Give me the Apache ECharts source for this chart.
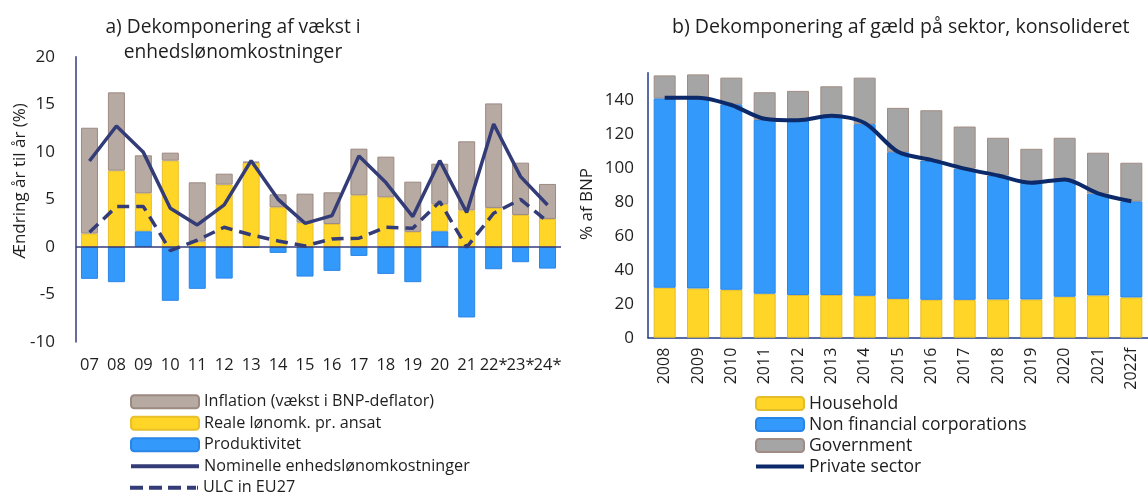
<!DOCTYPE html>
<html>
<head>
<meta charset="utf-8">
<script src="https://cdn.jsdelivr.net/npm/echarts@6/dist/echarts.min.js"></script>
<style>
html,body{margin:0;padding:0;background:#fff;}
#c{width:1148px;height:494px;}
</style>
</head>
<body>
<div id="c"></div>
<script>
// ---- Chart a) data ----
const catA = ['07','08','09','10','11','12','13','14','15','16','17','18','19','20','21','22*','23*','24*'];
const inflation = [11.13, 8.23, 3.99, 0.84, 6.23, 1.15, 0.10, 1.36, 3.05, 3.33, 4.90, 4.27, 5.28, 4.27, 7.25, 10.99, 5.50, 3.68];
const reale = [1.40, 8.02, 3.99, 9.07, 0.56, 6.55, 8.86, 4.17, 2.55, 2.41, 5.43, 5.22, 1.58, 2.83, 3.85, 4.10, 3.36, 2.94];
const produktivitet = [-3.36, -3.71, 1.65, -5.67, -4.41, -3.33, -0.1, -0.63, -3.12, -2.52, -0.95, -2.84, -3.71, 1.65, -7.42, -2.35, -1.61, -2.28];
const nominelle = [9.03, 12.71, 9.94, 4.06, 2.31, 4.41, 9.07, 5.0, 2.48, 3.29, 9.56, 6.76, 3.19, 9.07, 3.61, 12.92, 7.39, 4.41];
const ulcEU27 = [1.54, 4.24, 4.24, -0.38, 0.7, 2.07, 1.26, 0.63, 0.1, 0.84, 0.91, 2.07, 1.96, 4.76, -0.04, 3.54, 5.0, 2.66];
const ticksA = [-10, -5, 0, 5, 10, 15, 20];

// ---- Chart b) data ----
const catB = ['2008','2009','2010','2011','2012','2013','2014','2015','2016','2017','2018','2019','2020','2021','2022f'];
const household = [29.4, 29.0, 28.2, 25.9, 25.1, 25.1, 24.7, 22.9, 22.3, 22.3, 22.5, 22.5, 24.1, 24.9, 23.7];
const nfc = [111.5, 111.9, 109.2, 102.3, 102.7, 104.7, 101.0, 86.3, 82.0, 77.2, 73.0, 68.7, 69.1, 59.9, 56.6];
const government = [13.5, 14.1, 15.7, 16.3, 17.5, 18.2, 27.4, 26.1, 29.6, 24.8, 22.2, 20.0, 24.5, 24.1, 22.7];
const privateSector = [141.3, 141.3, 137.0, 128.9, 128.0, 130.6, 126.4, 109.4, 104.7, 99.5, 95.5, 91.2, 93.2, 85.0, 80.3];
const ticksB = [0, 20, 40, 60, 80, 100, 120, 140];

const FONT = 'Open Sans';
const TXT = '#1e1e1e';
const NAVY = '#343c78';
const DARK = '#0c2a6a';
// legend icons for the line series (thick solid / dashed strokes)
const ICON_SOLID_A = 'path://M0,0L68,0L68,4L0,4Z';
const ICON_DASH_A = 'path://M0,0L13,0L13,4L0,4Z M19,0L32,0L32,4L19,4Z M38,0L51,0L51,4L38,4Z M57,0L66,0L66,4L57,4Z M67,0L68,0L68,4L67,4Z';
const ICON_SOLID_B = 'path://M0,0L48,0L48,4L0,4Z';
const legendText = {fontFamily: FONT, fontSize: 16.2, color: TXT, lineHeight: 21.5};

const chart = echarts.init(document.getElementById('c'), null, {renderer: 'canvas'});
chart.setOption({
  animation: false,
  backgroundColor: '#fff',
  textStyle: {fontFamily: FONT, color: TXT},
  title: [
    {text: 'a) Dekomponering af vækst i\nenhedslønomkostninger', left: 233, top: 15, padding: 0, textAlign: 'center',
     textStyle: {fontFamily: FONT, fontSize: 19.2, fontWeight: 'normal', color: TXT, lineHeight: 25, align: 'center'}},
    {text: 'b) Dekomponering af gæld på sektor, konsolideret', left: 672, top: 15, padding: 0,
     textStyle: {fontFamily: FONT, fontSize: 19.6, fontWeight: 'normal', color: TXT, lineHeight: 25}}
  ],
  graphic: [
    {type: 'text', x: 20, y: 181, rotation: Math.PI / 2, silent: true,
     style: {text: 'Ændring år til år (%)', fontFamily: FONT, fontSize: 17, fill: TXT, align: 'center', verticalAlign: 'middle'}},
    {type: 'text', x: 587, y: 204, rotation: Math.PI / 2, silent: true,
     style: {text: '% af BNP', fontFamily: FONT, fontSize: 17, fill: TXT, align: 'center', verticalAlign: 'middle'}}
  ],
  legend: [
    {orient: 'vertical', left: 125, top: 386, itemWidth: 68, itemHeight: 13, itemGap: 0,
     textStyle: legendText,
     data: ['Inflation (vækst i BNP-deflator)', 'Reale lønomk. pr. ansat', 'Produktivitet',
            {name: 'Nominelle enhedslønomkostninger', icon: ICON_SOLID_A}]},
    {orient: 'vertical', left: 125, top: 472, itemWidth: 68, itemHeight: 13, itemGap: 0,
     textStyle: legendText,
     data: [{name: 'ULC in EU27', icon: ICON_DASH_A}]},
    {orient: 'vertical', left: 750, top: 388, itemWidth: 48, itemHeight: 13, itemGap: 0,
     textStyle: {fontFamily: FONT, fontSize: 17.6, color: TXT, lineHeight: 21},
     data: ['Household', 'Non financial corporations', 'Government', {name: 'Private sector', icon: ICON_SOLID_B}]}
  ],
  grid: [
    {left: 76, top: 56.7, width: 485, height: 285.3},
    {left: 648, top: 72.7, width: 500, height: 265}
  ],
  xAxis: [
    {type: 'category', gridIndex: 0, data: catA, axisLine: {show: false}, axisTick: {show: false},
     axisLabel: {fontFamily: FONT, fontSize: 16.5, color: TXT, margin: 15, interval: 0}},
    {type: 'category', gridIndex: 1, data: catB,
     axisLine: {show: true, lineStyle: {color: '#1f3b88', width: 1.5}}, axisTick: {show: false},
     axisLabel: {fontFamily: FONT, fontSize: 16, color: TXT, rotate: 90, margin: 10, interval: 0}}
  ],
  yAxis: [
    {type: 'value', gridIndex: 0, min: ticksA[0], max: ticksA[ticksA.length - 1], interval: 5,
     splitLine: {show: false}, axisTick: {show: false},
     axisLine: {show: true, lineStyle: {color: NAVY, width: 1.5}},
     axisLabel: {fontFamily: FONT, fontSize: 17, color: TXT, margin: 21}},
    {type: 'value', gridIndex: 1, min: ticksB[0], max: 156, interval: 20,
     splitLine: {show: false}, axisTick: {show: false},
     axisLine: {show: true, lineStyle: {color: '#1f3b88', width: 1.5}},
     axisLabel: {fontFamily: FONT, fontSize: 17, color: TXT, margin: 14, showMaxLabel: false}}
  ],
  series: [
    {name: 'Produktivitet', type: 'bar', xAxisIndex: 0, yAxisIndex: 0, stack: 'a', barWidth: 17,
     data: produktivitet, itemStyle: {color: '#3399fb', borderColor: '#2a86e6', borderWidth: 1},
     markLine: {silent: true, symbol: 'none', label: {show: false}, lineStyle: {color: NAVY, width: 1.5, type: 'solid'},
       data: [{yAxis: 0}], z: 3}},
    {name: 'Reale lønomk. pr. ansat', type: 'bar', xAxisIndex: 0, yAxisIndex: 0, stack: 'a', barWidth: 17,
     data: reale, itemStyle: {color: '#ffd628', borderColor: '#e8c02a', borderWidth: 1}},
    {name: 'Inflation (vækst i BNP-deflator)', type: 'bar', xAxisIndex: 0, yAxisIndex: 0, stack: 'a', barWidth: 17,
     data: inflation, itemStyle: {color: '#b6aaa3', borderColor: '#9c8a82', borderWidth: 1}},
    {name: 'Nominelle enhedslønomkostninger', type: 'line', xAxisIndex: 0, yAxisIndex: 0, data: nominelle,
     symbol: 'none', lineStyle: {color: NAVY, width: 3.5}, itemStyle: {color: NAVY}, z: 5},
    {name: 'ULC in EU27', type: 'line', xAxisIndex: 0, yAxisIndex: 0, data: ulcEU27,
     symbol: 'none', lineStyle: {color: NAVY, width: 3.5, type: [12, 7]}, itemStyle: {color: NAVY}, z: 5},

    {name: 'Household', type: 'bar', xAxisIndex: 1, yAxisIndex: 1, stack: 'b', barWidth: 22,
     data: household, itemStyle: {color: '#ffd628', borderColor: '#e3bd2a', borderWidth: 1}},
    {name: 'Non financial corporations', type: 'bar', xAxisIndex: 1, yAxisIndex: 1, stack: 'b', barWidth: 22,
     data: nfc, itemStyle: {color: '#3399fb', borderColor: '#2a86e6', borderWidth: 1}},
    {name: 'Government', type: 'bar', xAxisIndex: 1, yAxisIndex: 1, stack: 'b', barWidth: 22,
     data: government, itemStyle: {color: '#a5a5a5', borderColor: '#a08c84', borderWidth: 1}},
    {name: 'Private sector', type: 'line', xAxisIndex: 1, yAxisIndex: 1, data: privateSector, smooth: 0.3,
     symbol: 'none', lineStyle: {color: DARK, width: 4}, itemStyle: {color: DARK}, z: 5}
  ]
});
</script>
</body>
</html>
